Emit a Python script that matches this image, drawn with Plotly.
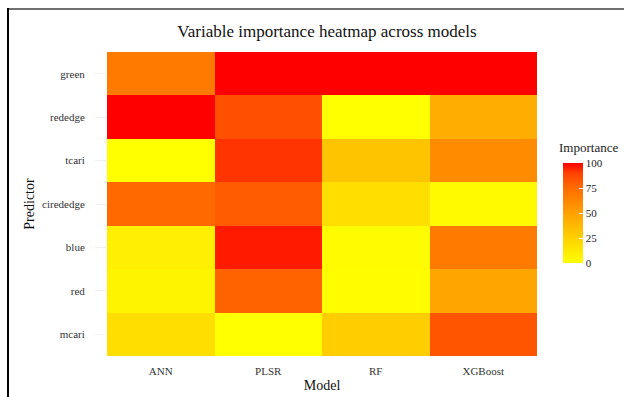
import plotly.graph_objects as go

models = ["ANN", "PLSR", "RF", "XGBoost"]
predictors = ["mcari", "red", "blue", "cirededge", "tcari", "rededge", "green"]  # bottom -> top
importance = {
    "green":     [68, 100, 100, 100],
    "rededge":   [100, 85, 0, 44],
    "tcari":     [0, 92, 32, 60],
    "cirededge": [76, 81, 18, 3],
    "blue":      [9, 96, 2, 68],
    "red":       [6, 78, 1, 48],
    "mcari":     [18, 0, 27, 83],
}
z = [importance[p] for p in predictors]

colorscale = [
    [0.0, "rgb(255,255,0)"],
    [0.1, "rgb(255,237,0)"],
    [0.25, "rgb(255,209,0)"],
    [0.5, "rgb(255,161,0)"],
    [0.75, "rgb(255,108,0)"],
    [0.9, "rgb(255,65,0)"],
    [1.0, "rgb(255,0,0)"],
]

W, H = 624, 397
L, R, T, B = 107, 87, 52, 41
pw, ph = W - L - R, H - T - B

def px(x):
    return (x - L) / pw

def py(y):
    return (H - B - y) / ph

font = "Liberation Serif"

fig = go.Figure(go.Heatmap(
    x=models, y=predictors, z=z, zmin=0, zmax=100,
    colorscale=colorscale,
    colorbar=dict(
        x=px(563), xanchor="left",
        y=py(163), yanchor="top",
        len=100, lenmode="pixels", thickness=20, outlinewidth=0, ypad=0, xpad=0,
        tickvals=[0, 25, 50, 75, 100], ticks="inside", ticklen=4, tickcolor="white",
        tickfont=dict(family=font, size=11, color="#222"),
    ),
))

fig.update_layout(
    width=W, height=H,
    margin=dict(l=L, r=R, t=T, b=B, autoexpand=False),
    paper_bgcolor="white", plot_bgcolor="white",
    title=dict(text="Variable importance heatmap across models",
               xref="container", x=327 / W, xanchor="center",
               yref="container", y=1 - 31 / H, yanchor="middle",
               font=dict(family=font, size=17, color="#111")),
    xaxis=dict(title=dict(text="Model", font=dict(family=font, size=14, color="#111"), standoff=4),
               tickfont=dict(family=font, size=11, color="#333"), showgrid=False, zeroline=False,
               ticks="", showline=False, ticklabelstandoff=7, automargin=False),
    yaxis=dict(title=dict(text="Predictor", font=dict(family=font, size=14, color="#111"), standoff=4),
               tickfont=dict(family=font, size=11, color="#333"), showgrid=False, zeroline=False,
               ticks="outside", ticklen=11, tickcolor="#F0F0F0", showline=False, ticklabelstandoff=8,
               automargin=False),
    annotations=[
        dict(text="Importance", xref="paper", yref="paper", x=px(588), y=py(147),
             xanchor="center", yanchor="middle", showarrow=False,
             font=dict(family=font, size=13, color="#222")),
    ],
    shapes=[
        dict(type="rect", xref="paper", yref="paper", x0=px(7), x1=px(624), y0=py(8), y1=py(10),
             fillcolor="#707070", line=dict(width=0), layer="above"),
        dict(type="rect", xref="paper", yref="paper", x0=px(7), x1=px(9), y0=py(8), y1=py(397),
             fillcolor="black", line=dict(width=0), layer="above"),
    ],
)

fig.write_html("out.html")
